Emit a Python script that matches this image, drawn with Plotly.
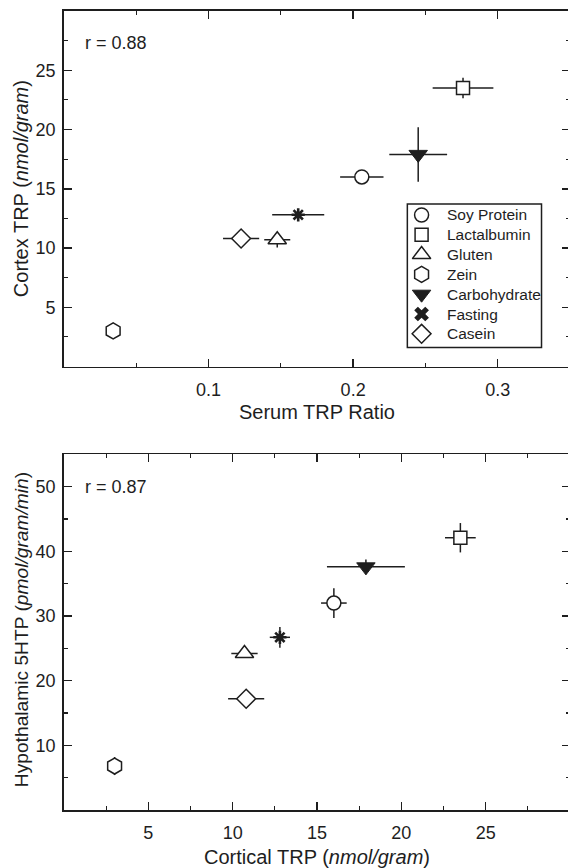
import plotly.graph_objects as go

# ---- data -------------------------------------------------------------
diets = ["Soy Protein", "Lactalbumin", "Gluten", "Zein", "Carbohydrate", "Fasting", "Casein"]

# upper panel: serum TRP ratio vs cortex TRP
serum_trp_ratio = [0.206, 0.276, 0.1475, 0.034, 0.245, 0.162, 0.1225]
serum_trp_sem = [0.015, 0.021, 0.009, 0.0, 0.020, 0.018, 0.0125]
cortex_trp = [16.0, 23.5, 10.7, 3.0, 17.9, 12.8, 10.8]
cortex_trp_sem_upper = [0.4, 0.87, 0.65, 0.0, 2.3, 0.4, 0.5]

# lower panel: cortical TRP vs hypothalamic 5HTP
cortex_trp_sem_lower = [0.76, 0.91, 0.78, 0.0, 2.31, 0.6, 1.07]
hypo_5htp = [32.0, 42.1, 24.2, 6.8, 37.6, 26.7, 17.2]
hypo_5htp_sem = [2.3, 2.27, 0.6, 1.4, 1.15, 1.6, 0.8]

r_upper = "r = 0.88"
r_lower = "r = 0.87"

x1_ticks = [0.1, 0.2, 0.3]
x1_minor = [0.05, 0.15, 0.25]
y1_ticks = [5, 10, 15, 20, 25]
y1_minor = [2.5, 7.5, 12.5, 17.5, 22.5, 27.5]
x2_ticks = [5, 10, 15, 20, 25]
x2_minor = [2.5, 7.5, 12.5, 17.5, 22.5, 27.5]
y2_ticks = [10, 20, 30, 40, 50]
y2_minor = [5, 15, 25, 35, 45]

# ---- styles -----------------------------------------------------------
INK = "#1e1e1e"
FONT = "Liberation Sans, Arial, Helvetica, sans-serif"
TICK_SIZE = 18
TITLE_SIZE = 20
LEGEND_SIZE = 15.5

marker_style = {
    "Soy Protein": dict(symbol="circle", size=14, color="white", line=dict(color=INK, width=1.5)),
    "Lactalbumin": dict(symbol="square", size=13, color="white", line=dict(color=INK, width=1.5)),
    "Gluten": dict(symbol="triangle-up", size=16, color="white", line=dict(color=INK, width=1.5)),
    "Zein": dict(symbol="hexagon", size=16, color="white", line=dict(color=INK, width=1.5)),
    "Carbohydrate": dict(symbol="triangle-down", size=16, color=INK, line=dict(color=INK, width=1)),
    "Fasting": dict(symbol="asterisk-open", size=11, color=INK, line=dict(color=INK, width=2.6)),
    "Casein": dict(symbol="diamond", size=14.5, color="white", line=dict(color=INK, width=1.5)),
}
key_style = dict(marker_style)
key_style["Fasting"] = dict(symbol="x", size=13, color=INK, line=dict(color=INK, width=0))

W, H = 572, 868
ML, MR, MT, MB = 64, 0, 11, 58
PH = H - MT - MB


def paper_x(px):
    return (px - ML) / (W - ML)


def paper_y(py):
    return (H - MB - py) / PH


fig = go.Figure()


def err(vals):
    return dict(type="data", array=vals, visible=True, color=INK, thickness=1.5, width=0)


for i, name in enumerate(diets):
    fig.add_trace(go.Scatter(
        x=[serum_trp_ratio[i]], y=[cortex_trp[i]], mode="markers",
        marker=marker_style[name], showlegend=False,
        error_x=err([serum_trp_sem[i]]), error_y=err([cortex_trp_sem_upper[i]]),
        xaxis="x", yaxis="y", name=name,
    ))
    fig.add_trace(go.Scatter(
        x=[cortex_trp[i]], y=[hypo_5htp[i]], mode="markers",
        marker=marker_style[name], showlegend=False,
        error_x=err([cortex_trp_sem_lower[i]]), error_y=err([hypo_5htp_sem[i]]),
        xaxis="x2", yaxis="y2", name=name,
    ))

# ---- key box (one row per diet, row index on its own axis) ------------
KEY_L, KEY_R, KEY_T, KEY_B = 408.7, 543.4, 204.0, 347.5
ROW = 19.8
key_rows = list(range(len(diets)))
for i, name in enumerate(diets):
    fig.add_trace(go.Scatter(
        x=[14.3], y=[key_rows[i]], mode="markers", marker=key_style[name],
        showlegend=False, xaxis="x5", yaxis="y5", name=name, hoverinfo="skip",
    ))
    fig.add_annotation(
        x=37.5, y=key_rows[i], xref="x5", yref="y5", text=name, showarrow=False,
        xanchor="left", yanchor="middle",
        font=dict(family=FONT, size=LEGEND_SIZE, color=INK),
    )
fig.add_shape(type="rect", xref="paper", yref="paper",
              x0=paper_x(KEY_L), x1=paper_x(KEY_R), y0=paper_y(KEY_B), y1=paper_y(KEY_T),
              line=dict(color=INK, width=1.5), fillcolor="rgba(0,0,0,0)", layer="above")

top_dom = [paper_y(366.5), 1.0]
bot_dom = [0.0, paper_y(454.3)]

tickfont = dict(family=FONT, size=TICK_SIZE, color=INK)


def axis(rng, ticks, minor, dom=None, anchor=None, standoff=0):
    d = dict(
        range=rng, tickmode="array", tickvals=ticks, ticktext=[str(t) for t in ticks],
        ticks="inside", ticklen=8, tickwidth=1.5, tickcolor=INK,
        minor=dict(tickmode="array", tickvals=minor, ticks="inside", ticklen=4,
                   tickwidth=1.2, tickcolor=INK),
        showline=True, linecolor=INK, linewidth=1.8, mirror="ticks",
        showgrid=False, zeroline=False, tickfont=tickfont,
        ticklabelstandoff=standoff, fixedrange=True,
    )
    if dom is not None:
        d["domain"] = dom
    if anchor is not None:
        d["anchor"] = anchor
    return d


def cross_axis(rng, ticks, minor, anchor, overlay):
    # outward stubs so the bottom ticks straddle the axis line
    return dict(
        range=rng, tickmode="array", tickvals=ticks, ticks="outside", ticklen=5,
        tickwidth=1.5, tickcolor=INK,
        minor=dict(tickmode="array", tickvals=minor, ticks="outside", ticklen=3,
                   tickwidth=1.2, tickcolor=INK),
        showline=False, showgrid=False, zeroline=False, showticklabels=False,
        anchor=anchor, overlaying=overlay, side="bottom", fixedrange=True,
    )


fig.update_layout(
    width=W, height=H, autosize=False,
    margin=dict(l=ML, r=MR, t=MT, b=MB, pad=0),
    paper_bgcolor="white", plot_bgcolor="white",
    font=dict(family=FONT, size=TICK_SIZE, color=INK),
    xaxis=dict(**axis([0, 0.35], x1_ticks, x1_minor, anchor="y", standoff=6)),
    yaxis=dict(**axis([0, 30], y1_ticks, y1_minor, dom=top_dom, anchor="x", standoff=3)),
    xaxis2=dict(**axis([0, 30], x2_ticks, x2_minor, anchor="y2", standoff=6)),
    yaxis2=dict(**axis([0, 55], y2_ticks, y2_minor, dom=bot_dom, anchor="x2", standoff=3)),
    xaxis3=cross_axis([0, 0.35], x1_ticks, x1_minor, "y", "x"),
    xaxis4=cross_axis([0, 30], x2_ticks, x2_minor, "y2", "x2"),
    xaxis5=dict(domain=[paper_x(KEY_L), paper_x(KEY_R)], range=[0, KEY_R - KEY_L],
                visible=False, anchor="y5", fixedrange=True),
    yaxis5=dict(domain=[paper_y(KEY_B), paper_y(KEY_T)],
                range=[6 + (KEY_B - KEY_T - 6 * ROW - 11.0) / ROW, -11.0 / ROW],
                visible=False, anchor="x5", fixedrange=True),
    showlegend=False,
)

annots = [
    dict(text=r_upper, x=paper_x(83), y=paper_y(42.7), xanchor="left", yanchor="middle",
         size=TICK_SIZE),
    dict(text=r_lower, x=paper_x(83), y=paper_y(486.7), xanchor="left", yanchor="middle",
         size=TICK_SIZE),
    dict(text="Serum TRP Ratio", x=paper_x(318), y=paper_y(411.7), xanchor="center",
         yanchor="middle", size=TITLE_SIZE),
    dict(text="Cortical TRP (<i>nmol/gram</i>)", x=paper_x(318), y=paper_y(856.5),
         xanchor="center", yanchor="middle", size=TITLE_SIZE),
    dict(text="Cortex TRP (<i>nmol/gram</i>)", x=paper_x(21), y=paper_y(189),
         xanchor="center", yanchor="middle", textangle=-90, size=TITLE_SIZE),
    dict(text="Hypothalamic 5HTP (<i>pmol/gram/min</i>)", x=paper_x(21), y=paper_y(630),
         xanchor="center", yanchor="middle", textangle=-90, size=19.2),
]
for a in annots:
    size = a.pop("size")
    fig.add_annotation(xref="paper", yref="paper", showarrow=False,
                       font=dict(family=FONT, size=size, color=INK), **a)

fig.write_html(
    "out.html",
    config=dict(displayModeBar=False, staticPlot=True),
    post_script="document.documentElement.style.overflow='hidden';document.body.style.overflow='hidden';document.body.style.margin='0';",
)
